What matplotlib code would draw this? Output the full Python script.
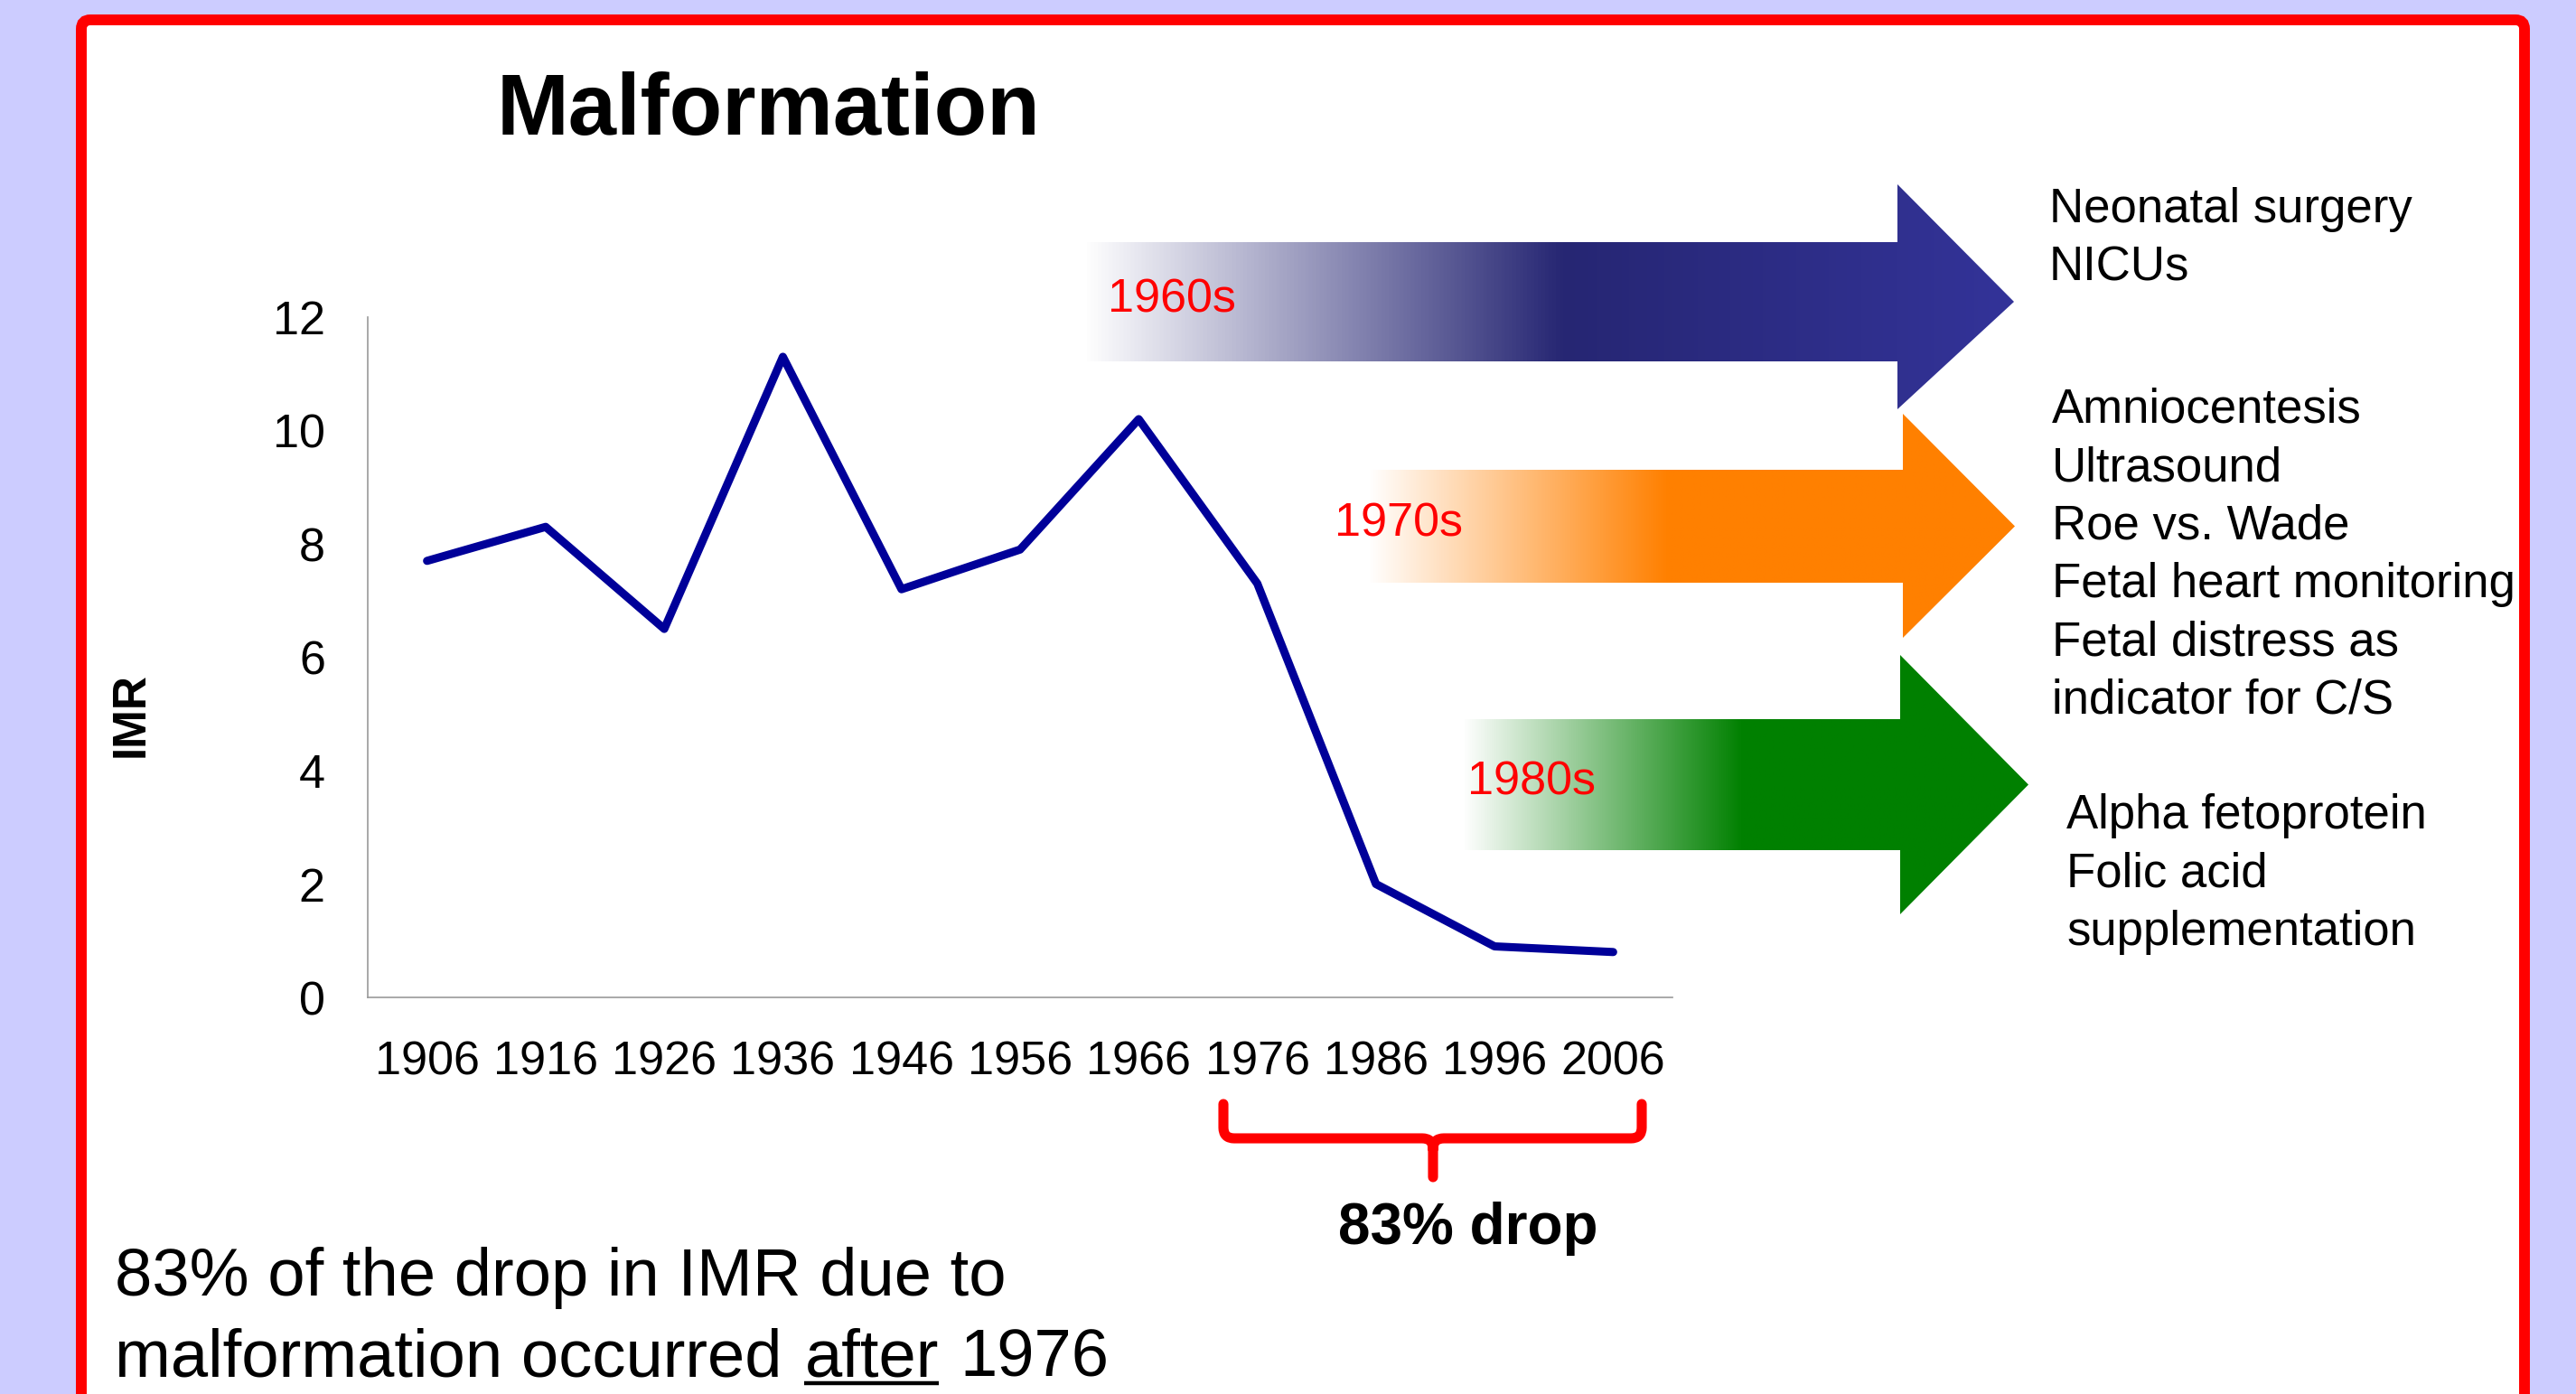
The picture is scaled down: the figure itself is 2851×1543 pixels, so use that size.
"""Malformation IMR slide, redrawn with matplotlib."""

import numpy as np
import matplotlib
matplotlib.use("Agg")
from matplotlib import pyplot as plt
from matplotlib.colors import LinearSegmentedColormap
from matplotlib.patches import Polygon, FancyBboxPatch, PathPatch
from matplotlib.path import Path

plt.rcParams['font.family'] = ['Liberation Sans', 'DejaVu Sans']

# Data ========================================================================

years = ['1906', '1916', '1926', '1936', '1946', '1956',
         '1966', '1976', '1986', '1996', '2006']
imr = [7.7, 8.3, 6.5, 11.3, 7.2, 7.9, 10.2, 7.3, 2.0, 0.9, 0.8]
y_ticks = [0, 2, 4, 6, 8, 10, 12]

decades = ['1960s', '1970s', '1980s']
notes = [
    ['Neonatal surgery', 'NICUs'],
    ['Amniocentesis', 'Ultrasound', 'Roe vs. Wade', 'Fetal heart monitoring',
     'Fetal distress as', 'indicator for C/S'],
    ['Alpha fetoprotein', 'Folic acid', 'supplementation'],
]
drop_label = '83% drop'
summary = ['83% of the drop in IMR due to', 'malformation occurred', 'after', '1976']

# Layout (pixels of the 2851x1543 slide) ======================================

W, H = 2851, 1543
# body left, body top, body bottom, head base x, head top, head bottom, tip x
arrows = [
    (1199, 268, 400, 2100, 204, 453, 2229),
    (1514, 520, 645, 2106, 458, 706, 2230),
    (1619, 796, 941, 2103, 725, 1012, 2245),
]
# gradient stops as (fraction of body length, colour)
grads = [
    [(0.0, '#ffffff'), (0.59, '#262673'), (1.0, '#30308f')],
    [(0.0, '#ffffff'), (0.56, '#ff8000'), (1.0, '#ff8000')],
    [(0.0, '#ffffff'), (0.64, '#008000'), (1.0, '#008000')],
]
head_colors = ['#333399', '#ff8000', '#008000']
decade_xy = [(1226, 345), (1477, 594), (1624, 880)]
note_xy = [(2268, 246), (2271, 468), (2287, 917)]
note_step = 64.3

fig = plt.figure(figsize=(W / 100, H / 100), dpi=100, facecolor='#ccccff')
bg = fig.add_axes([0, 0, 1, 1], zorder=0)
bg.axis('off')

frame = FancyBboxPatch((90, 22), 2704, 1620, boxstyle='round,pad=0,rounding_size=10',
                       ec='#ff0000', fc='white', lw=8.6, zorder=1)
bg.add_patch(frame)

# Gradient arrows -------------------------------------------------------------
for (bl, bt, bb, hb, ht, hbo, tip), stops, hc in zip(arrows, grads, head_colors):
    ty = (bt + bb) / 2
    verts = [(bl, bt), (hb, bt), (hb, ht), (tip, ty), (hb, hbo), (hb, bb), (bl, bb)]
    span = tip - bl
    cstops = [(f * (hb - bl) / span, c) for f, c in stops] + [(1.0, hc)]
    cmap = LinearSegmentedColormap.from_list('g', cstops)
    grad = np.linspace(0, 1, 1024).reshape(1, -1)
    im = bg.imshow(grad, cmap=cmap, extent=(bl, tip, hbo, ht), aspect='auto',
                   interpolation='bilinear', zorder=2)
    im.set_clip_path(Polygon(verts, closed=True, transform=bg.transData))

for lab, (x, y) in zip(decades, decade_xy):
    bg.text(x, y, lab, color='#ff0000', fontsize=37.5, va='baseline', zorder=3)

for lines, (x, y) in zip(notes, note_xy):
    for i, line in enumerate(lines):
        bg.text(x, y + i * note_step, line, fontsize=38, va='baseline', zorder=3)

# Titles and labels -----------------------------------------------------------
bg.text(851, 149, 'Malformation', fontsize=69, fontweight='bold', ha='center',
        va='baseline', zorder=3)
bg.text(145, 791, 'IMR', fontsize=37, fontweight='bold', rotation=90,
        ha='center', va='center', zorder=3)

# Brace under 1976-2006
bx0, bx1, bxc, by0, by1, by2, r = 1354, 1817, 1586, 1222, 1260, 1303, 12
brace = Path(
    [(bx0, by0), (bx0, by1 - r), (bx0, by1), (bx0 + r, by1), (bxc - r, by1),
     (bxc, by1), (bxc, by1 + r), (bxc, by2),
     (bx1, by0), (bx1, by1 - r), (bx1, by1), (bx1 - r, by1), (bxc + r, by1),
     (bxc, by1), (bxc, by1 + r)],
    [Path.MOVETO, Path.LINETO, Path.CURVE3, Path.CURVE3, Path.LINETO,
     Path.CURVE3, Path.CURVE3, Path.LINETO,
     Path.MOVETO, Path.LINETO, Path.CURVE3, Path.CURVE3, Path.LINETO,
     Path.CURVE3, Path.CURVE3])
bg.add_patch(PathPatch(brace, fc='none', ec='#ff0000', lw=8, capstyle='round',
                       joinstyle='round', zorder=3))
bg.text(1625, 1377, drop_label, fontsize=46, fontweight='bold', ha='center',
        va='baseline', zorder=3)

# Summary sentence with underlined "after"
bg.text(127, 1434, summary[0], fontsize=53.5, va='baseline', zorder=3)
t_a = bg.text(127, 1523, summary[1], fontsize=53.5, va='baseline', zorder=3)
t_b = bg.annotate(summary[2], xy=(1, 0), xycoords=t_a, xytext=(18, 0),
                  textcoords='offset points', fontsize=53.5, va='bottom', zorder=3)
bg.annotate(summary[3], xy=(1, 0), xycoords=t_b, xytext=(17, 0),
            textcoords='offset points', fontsize=53.5, va='bottom', zorder=3)

bg.set_xlim(0, W)
bg.set_ylim(H, 0)

# Line chart ==================================================================
ax = fig.add_axes([407 / W, 1 - 1104 / H, (1851 - 407) / W, (1104 - 351) / H], zorder=1)
ax.patch.set_alpha(0)
x = np.arange(len(years))
ax.plot(x, imr, color='#000099', lw=6.5, solid_joinstyle='round',
        solid_capstyle='round')
ax.set_xlim(-0.5, len(years) - 0.5)
ax.set_ylim(0, 12)
ax.set_xticks(x)
ax.set_xticklabels(years)
ax.set_yticks(y_ticks)
for s in ['top', 'right']:
    ax.spines[s].set_visible(False)
for s in ['left', 'bottom']:
    ax.spines[s].set_color('#999999')
    ax.spines[s].set_linewidth(1.2)
ax.tick_params(length=0, labelsize=37.5, pad=34)

# underline "after" once its position is known
fig.canvas.draw()
ext = t_b.get_window_extent()
bg.plot([ext.x0, ext.x1], [1531, 1531], color='black', lw=3.2,
        solid_capstyle='butt', zorder=3)
bg.set_xlim(0, W)
bg.set_ylim(H, 0)

fig.savefig('out.png', dpi=100, facecolor=fig.get_facecolor())
